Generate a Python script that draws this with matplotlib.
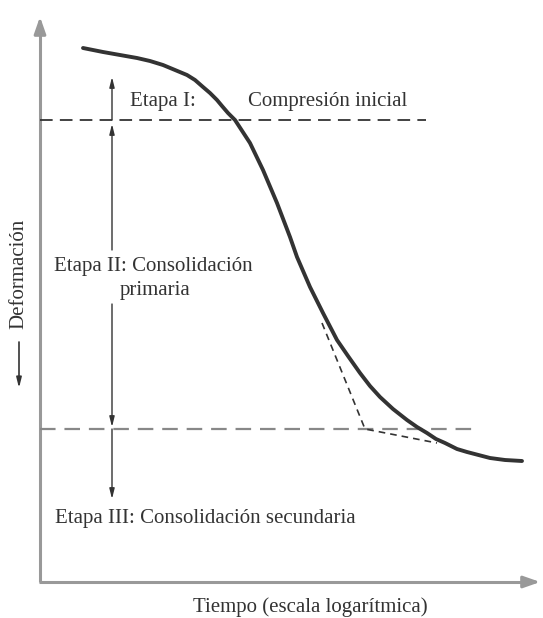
import matplotlib
matplotlib.use("Agg")
import matplotlib.pyplot as plt

# x: log10(tiempo), d: deformacion (crece hacia abajo)
curve_x = [0.43, 0.53, 0.63, 0.80, 0.97, 1.10, 1.23, 1.35, 1.47, 1.55, 1.63, 1.70,
           1.77, 1.82, 1.88, 1.95, 2.10, 2.23, 2.37, 2.50, 2.57, 2.70, 2.83, 2.97,
           3.08, 3.20, 3.30, 3.40, 3.53, 3.67, 3.77, 3.87, 3.96, 4.05, 4.17, 4.27,
           4.50, 4.65, 4.82]
curve_d = [0.00, 0.02, 0.04, 0.07, 0.10, 0.13, 0.17, 0.22, 0.27, 0.32, 0.39, 0.45,
           0.52, 0.58, 0.65, 0.72, 0.95, 1.22, 1.55, 1.89, 2.09, 2.39, 2.65, 2.92,
           3.08, 3.25, 3.38, 3.49, 3.61, 3.72, 3.79, 3.85, 3.91, 3.95, 4.01, 4.04,
           4.10, 4.12, 4.13]

# limites entre etapas
level_I = 0.72
level_II = 3.81
level_I_end = 3.86
level_II_end = 4.36

# construccion de la tangente (linea discontinua)
tang_x = [2.82, 3.25, 3.97]
tang_d = [2.75, 3.81, 3.95]

# flechas de las etapas
arrow_x = 0.72
arrows = [(0.72, 0.29), (2.02, 0.76), (2.56, 3.79), (3.81, 4.51)]

dark = "#333333"
gray = "#999999"

fig = plt.figure(figsize=(5.43, 6.18), dpi=100)
ax = fig.add_axes([0, 0, 1, 1])
ax.set_xlim(-0.40, 5.03)
ax.set_ylim(5.70, -0.48)
ax.axis("off")
plt.rcParams["font.family"] = ["Liberation Serif", "DejaVu Serif"]

# ejes con flechas
x_axis_d = 5.34
ax.plot([0, 0], [x_axis_d, -0.20], color=gray, lw=2.2, solid_capstyle="butt")
ax.plot([-0.01, 4.90], [x_axis_d, x_axis_d], color=gray, lw=2.2, solid_capstyle="butt")
ax.annotate("", xy=(0, -0.34), xytext=(0, -0.15),
            arrowprops=dict(arrowstyle="-|>,head_length=1.0,head_width=0.35", color=gray, lw=2.2))
ax.annotate("", xy=(5.03, x_axis_d), xytext=(4.85, x_axis_d),
            arrowprops=dict(arrowstyle="-|>,head_length=1.0,head_width=0.35", color=gray, lw=2.2))

# lineas discontinuas
ax.plot([0, level_I_end], [level_I, level_I], color=dark, lw=1.3, dashes=(7, 4))
ax.plot([0, level_II_end], [level_II, level_II], color="#888888", lw=1.6, dashes=(7, 4))
ax.plot(tang_x, tang_d, color="#333333", lw=1.2, dashes=(4, 3))

# curva
ax.plot(curve_x, curve_d, color=dark, lw=2.8, solid_capstyle="round", solid_joinstyle="round")

# flechas de las etapas
for d0, d1 in arrows:
    ax.annotate("", xy=(arrow_x, d1), xytext=(arrow_x, d0),
                arrowprops=dict(arrowstyle="-|>,head_length=0.6,head_width=0.15",
                                color=dark, lw=1.0, shrinkA=0, shrinkB=0))

fs = 15
ax.text(0.90, 0.54, "Etapa I:", fontsize=fs, color=dark, ha="left", va="center")
ax.text(2.08, 0.54, "Compresión inicial", fontsize=fs, color=dark, ha="left", va="center")
ax.text(0.14, 2.19, "Etapa II: Consolidación", fontsize=fs, color=dark, ha="left", va="center")
ax.text(1.15, 2.43, "primaria", fontsize=fs, color=dark, ha="center", va="center")
ax.text(0.15, 4.70, "Etapa III: Consolidación secundaria", fontsize=fs, color=dark,
        ha="left", va="center")
ax.text(2.70, 5.59, "Tiempo (escala logarítmica)", fontsize=fs, color=dark,
        ha="center", va="center")
ax.text(-0.21, 2.26, "Deformación", fontsize=fs, color=dark, rotation=90,
        ha="center", va="center")
ax.annotate("", xy=(-0.21, 3.40), xytext=(-0.21, 2.94),
            arrowprops=dict(arrowstyle="-|>,head_length=0.6,head_width=0.15",
                            color=dark, lw=1.2, shrinkA=0, shrinkB=0))

fig.savefig("out.png", dpi=100)
